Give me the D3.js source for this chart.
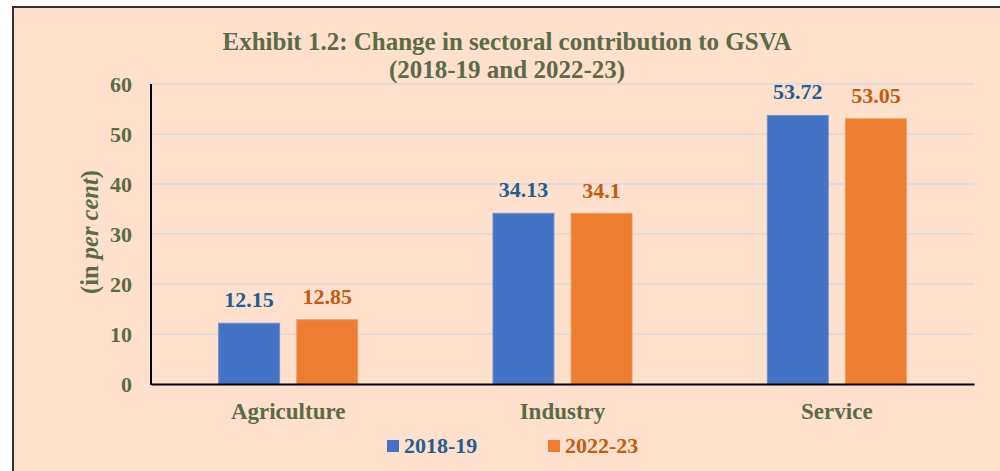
<!DOCTYPE html>
<html><head><meta charset="utf-8">
<script src="https://cdn.jsdelivr.net/npm/d3@7"></script>
<style>
html,body{margin:0;padding:0;background:#fff;}
svg{display:block;}
text{font-family:"Liberation Serif","Times New Roman",serif;font-weight:bold;}
</style></head><body>
<svg id="c" width="1000" height="471"></svg>
<script>
const categories = ["Agriculture", "Industry", "Service"];
const seriesNames = ["2018-19", "2022-23"];
const values2018 = [12.15, 34.13, 53.72];
const values2022 = [12.85, 34.1, 53.05];
const labels2018 = ["12.15", "34.13", "53.72"];
const labels2022 = ["12.85", "34.1", "53.05"];
const yTicks = [0, 10, 20, 30, 40, 50, 60];
const titleLines = ["Exhibit 1.2: Change in sectoral contribution to GSVA", "(2018-19 and 2022-23)"];

const fill = ["#4472c4", "#ed7d31"];
const labelColor = ["#255e91", "#c55a11"];
const textColor = "#5b6b47";

const svg = d3.select("#c");
svg.append("rect").attr("x", 13).attr("y", 7).attr("width", 1000).attr("height", 480)
  .attr("fill", "#fee0cc").attr("stroke", "#333").attr("stroke-width", 2);

const L = 151, R = 974, T = 84, B = 384;
const x = d3.scaleBand().domain(categories).range([L, R]);
const x1 = d3.scaleBand().domain(seriesNames).range([0, 139]).paddingInner(0.22);
const y = d3.scaleLinear().domain([0, 60]).range([B, T]);

// gridlines
svg.append("g").selectAll("line").data(yTicks.filter(d => d > 0)).join("line")
  .attr("x1", L).attr("x2", R).attr("y1", d => y(d)).attr("y2", d => y(d))
  .attr("stroke", "#d9d9dc").attr("stroke-width", 1.5);

// y tick labels
const yAxis = svg.append("g").attr("transform", `translate(${L},0)`)
  .call(d3.axisLeft(y).tickValues(yTicks).tickSize(0).tickPadding(19));
yAxis.select(".domain").remove();
yAxis.selectAll("text").attr("fill", textColor).style("font-size", "22px")
  .style("font-family", '"Liberation Serif", serif').style("font-weight", "bold").attr("dy", "0.34em");

const data = [values2018, values2022];
const labs = [labels2018, labels2022];
seriesNames.forEach((s, si) => {
  const g = svg.append("g");
  g.selectAll("rect").data(categories).join("rect")
    .attr("x", d => x(d) + (x.bandwidth() - 139) / 2 + x1(s))
    .attr("width", x1.bandwidth())
    .attr("y", (d, i) => y(data[si][i]))
    .attr("height", (d, i) => B - y(data[si][i]))
    .attr("fill", fill[si]).attr("stroke", si === 0 ? "#6b8fd0" : "#f29a5e").attr("stroke-width", 1);
  g.selectAll("text").data(categories).join("text")
    .attr("x", d => x(d) + (x.bandwidth() - 139) / 2 + x1(s) + x1.bandwidth() / 2)
    .attr("y", (d, i) => y(data[si][i]) - 16)
    .attr("text-anchor", "middle").attr("fill", labelColor[si]).style("font-size", "22px")
    .text((d, i) => labs[si][i]);
});

// axes lines
svg.append("line").attr("x1", L).attr("x2", L).attr("y1", T).attr("y2", B + 1).attr("stroke", "#000").attr("stroke-width", 2);
const xAxis = svg.append("g").attr("transform", `translate(0,${B})`)
  .call(d3.axisBottom(x).tickSize(0).tickPadding(19));
xAxis.select(".domain").attr("stroke", "#000").attr("stroke-width", 2);
xAxis.selectAll("text").attr("fill", textColor).style("font-size", "23px")
  .style("font-family", '"Liberation Serif", serif').style("font-weight", "bold");

// title
svg.append("text").attr("x", 507).attr("y", 50).attr("text-anchor", "middle").attr("fill", textColor)
  .style("font-size", "25px").text(titleLines[0]);
svg.append("text").attr("x", 507).attr("y", 78).attr("text-anchor", "middle").attr("fill", textColor)
  .style("font-size", "25px").text(titleLines[1]);

// y axis title
const yt = svg.append("text").attr("transform", "translate(98,232) rotate(-90)")
  .attr("text-anchor", "middle").attr("fill", textColor).style("font-size", "24.5px");
yt.append("tspan").text("(in ");
yt.append("tspan").style("font-style", "italic").text("per cent");
yt.append("tspan").text(")");

// legend
const lg = svg.append("g");
const legX = [387, 548];
seriesNames.forEach((s, i) => {
  lg.append("rect").attr("x", legX[i]).attr("y", 440).attr("width", 12).attr("height", 12).attr("fill", fill[i]);
  lg.append("text").attr("x", legX[i] + 17).attr("y", 453).attr("fill", labelColor[i]).style("font-size", "22px").text(s);
});
</script>
</body></html>
